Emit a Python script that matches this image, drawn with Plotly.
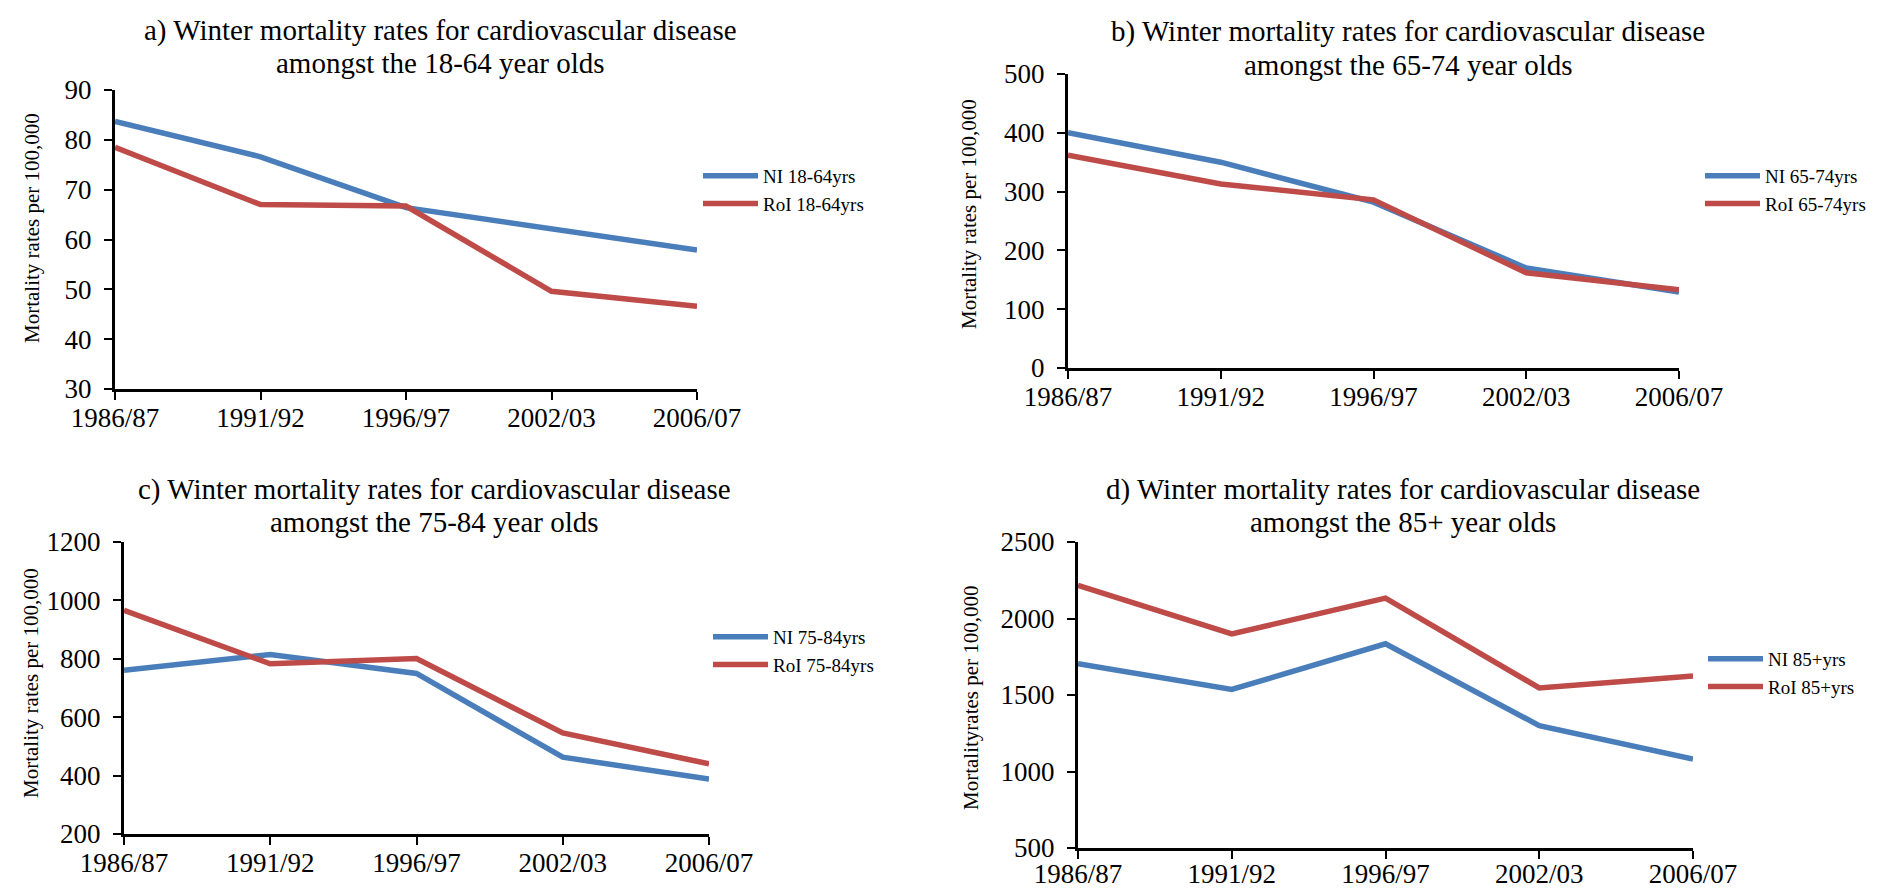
import plotly.graph_objects as go

W, H = 1892, 891

periods = ["1986/87", "1991/92", "1996/97", "2002/03", "2006/07"]

ni_18_64 = [83.7, 76.6, 66.4, 62.2, 57.9]
roi_18_64 = [78.5, 67.0, 66.7, 49.6, 46.6]

ni_65_74 = [400, 350, 282, 170, 129]
roi_65_74 = [362, 313, 286, 162, 133]

ni_75_84 = [761, 815, 750, 463, 388]
roi_75_84 = [966, 783, 801, 546, 440]

ni_85 = [1705, 1536, 1835, 1300, 1082]
roi_85 = [2217, 1899, 2133, 1546, 1624]

title_line1 = [
    "a) Winter mortality rates for cardiovascular disease",
    "b) Winter mortality rates for cardiovascular disease",
    "c) Winter mortality rates for cardiovascular disease",
    "d) Winter mortality rates for cardiovascular disease",
]
title_line2 = [
    "amongst the 18-64 year olds",
    "amongst the 65-74 year olds",
    "amongst the 75-84 year olds",
    "amongst the 85+ year olds",
]
ytitles = [
    "Mortality rates per 100,000",
    "Mortality rates per 100,000",
    "Mortality rates per 100,000",
    "Mortalityrates per 100,000",
]
legend_names = [
    ("NI 18-64yrs", "RoI 18-64yrs"),
    ("NI 65-74yrs", "RoI 65-74yrs"),
    ("NI 75-84yrs", "RoI 75-84yrs"),
    ("NI 85+yrs", "RoI 85+yrs"),
]
series = [
    (ni_18_64, roi_18_64),
    (ni_65_74, roi_65_74),
    (ni_75_84, roi_75_84),
    (ni_85, roi_85),
]
yranges = [(30, 90, 10), (0, 500, 100), (200, 1200, 200), (500, 2500, 500)]

# pixel layout of each panel: x0, x1, ytop, ybottom
boxes = [
    (107, 689, 82, 381),
    (1060, 1671, 66, 360),
    (116, 701, 534, 826),
    (1070, 1685, 534, 840),
]
x_standoff = [-5, -5, -5, -8]
# title centre x, line1 y, line2 y
title_pos = [(432, 22, 55), (1400, 24, 57), (426, 481, 514), (1395, 481, 514)]
ytitle_pos = [(24, 220), (961, 206), (23, 675), (963, 690)]
# legend: reference point x, middle y
legend_pos = [(710, 182), (1712, 182), (720, 643), (1715, 665)]

FONT = "Liberation Serif, Times New Roman, serif"
BLUE = "#4A7EBB"
RED = "#BE4B48"

fig = go.Figure()
layout = dict(
    width=W, height=H,
    margin=dict(l=0, r=0, t=0, b=0, autoexpand=False),
    paper_bgcolor="white", plot_bgcolor="white",
    font=dict(family=FONT, color="black"),
    annotations=[],
)

for i in range(4):
    n = "" if i == 0 else str(i + 1)
    xa, ya = "x" + n, "y" + n
    lg = "legend" + n
    ni, roi = series[i]
    nn, rn = legend_names[i]
    fig.add_trace(go.Scatter(x=list(range(5)), y=ni, mode="lines", name=nn,
                             line=dict(color=BLUE, width=5.5), xaxis=xa, yaxis=ya,
                             legend=lg))
    fig.add_trace(go.Scatter(x=list(range(5)), y=roi, mode="lines", name=rn,
                             line=dict(color=RED, width=5.5), xaxis=xa, yaxis=ya,
                             legend=lg))
    x0, x1, yt, yb = boxes[i]
    y0, y1, dt = yranges[i]
    layout["xaxis" + n] = dict(
        domain=[x0 / W, x1 / W], anchor=ya, range=[0, 4], automargin=False,
        tickmode="array", tickvals=list(range(5)), ticktext=periods,
        showline=True, linecolor="black", linewidth=3,
        ticks="outside", ticklen=8, tickwidth=2, tickcolor="black",
        showgrid=False, zeroline=False, ticklabelstandoff=x_standoff[i],
        tickfont=dict(family=FONT, size=27, color="black"),
    )
    layout["yaxis" + n] = dict(
        domain=[1 - yb / H, 1 - yt / H], anchor=xa, range=[y0, y1], automargin=False,
        tickmode="linear", tick0=y0, dtick=dt,
        showline=True, linecolor="black", linewidth=3,
        ticks="outside", ticklen=8, tickwidth=2, tickcolor="black",
        showgrid=False, zeroline=False, ticklabelstandoff=7,
        tickfont=dict(family=FONT, size=27, color="black"),
    )
    lx, ly = legend_pos[i]
    layout[lg] = dict(
        x=(lx - 20) / W, y=1 - ly / H, xanchor="left", yanchor="middle",
        xref="paper", yref="paper",
        font=dict(family=FONT, size=19, color="black"),
        bgcolor="rgba(0,0,0,0)", borderwidth=0, tracegroupgap=0,
        itemwidth=55,
    )
    tx, ty1, ty2 = title_pos[i]
    for txt, ty in ((title_line1[i], ty1), (title_line2[i], ty2)):
        layout["annotations"].append(dict(
            text=txt, x=tx / W, y=1 - ty / H, xref="paper", yref="paper",
            xanchor="center", yanchor="middle", showarrow=False,
            font=dict(family=FONT, size=29, color="black"), align="center",
        ))
    ax_, ay_ = ytitle_pos[i]
    layout["annotations"].append(dict(
        text=ytitles[i], x=ax_ / W, y=1 - ay_ / H, xref="paper", yref="paper",
        xanchor="center", yanchor="middle", showarrow=False, textangle=-90,
        font=dict(family=FONT, size=21, color="black"),
    ))

fig.update_layout(**layout)
fig.write_html("out.html")
